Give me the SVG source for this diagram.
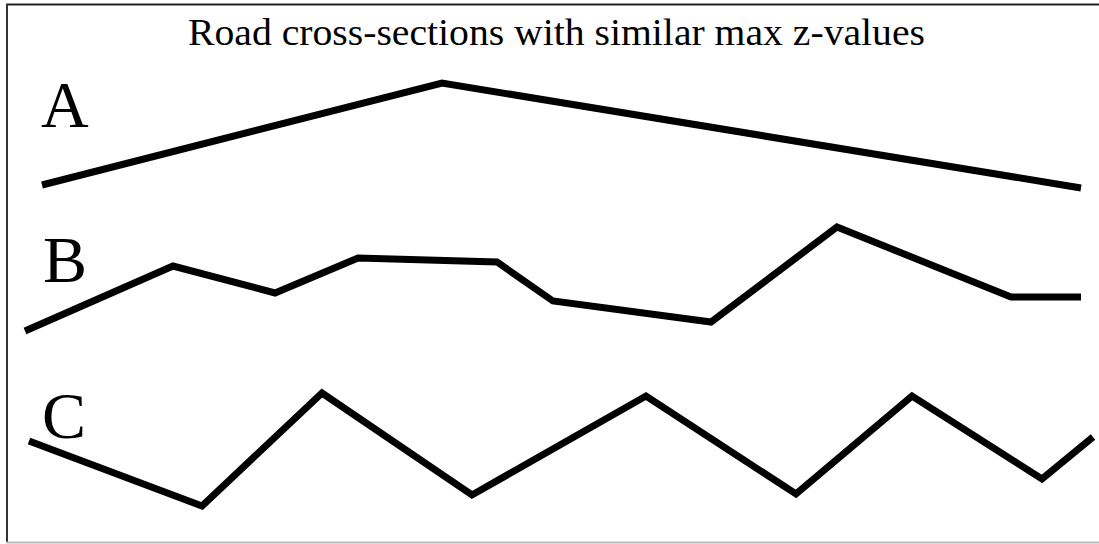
<svg xmlns="http://www.w3.org/2000/svg" width="1099" height="544" viewBox="0 0 1099 544">
<style>
.t{font-family:"Liberation Serif","DejaVu Serif",serif;fill:#000}
.road{fill:none;stroke:#000;stroke-width:7;stroke-linejoin:miter;stroke-linecap:butt}
</style>
<rect width="1099" height="544" fill="#fff"/>
<line x1="6" y1="4.5" x2="1099" y2="4.5" stroke="#222" stroke-width="2"/>
<line x1="7" y1="4" x2="7" y2="543" stroke="#333" stroke-width="2"/>
<line x1="6" y1="542.5" x2="1099" y2="542.5" stroke="#bbb" stroke-width="2"/>
<text class="t" x="188" y="45" font-size="37" textLength="737" lengthAdjust="spacingAndGlyphs">Road cross-sections with similar max z-values</text>
<g id="A">
<text class="t" x="41" y="127" font-size="66">A</text>
<polyline class="road" points="42,185 442,83 1081,188"/>
</g>
<g id="B">
<text class="t" x="43" y="282" font-size="66">B</text>
<polyline class="road" points="25,331 173,266 275,293 358,258 497,262 553,301 711,322 837,227 1011,297 1081,297"/>
</g>
<g id="C">
<text class="t" x="42" y="438" font-size="66">C</text>
<polyline class="road" points="29,441 202,506 322,393 472,495 646,396 796,494 912,396 1042,479 1093,437"/>
</g>
</svg>
